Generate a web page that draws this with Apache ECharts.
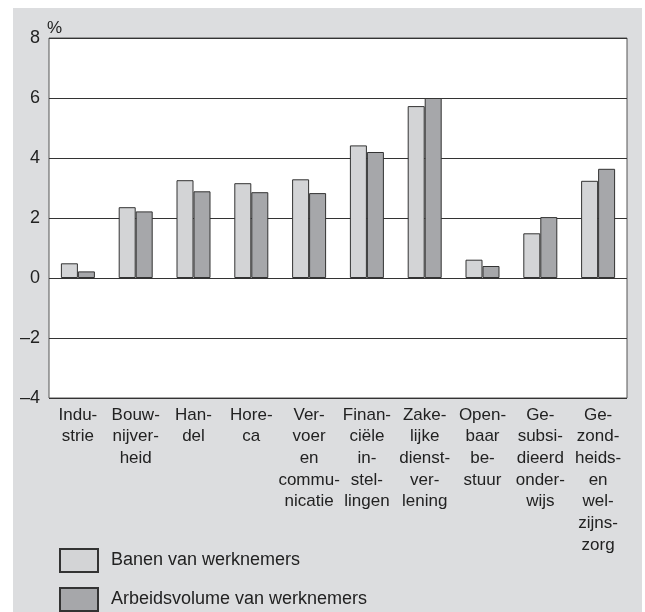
<!DOCTYPE html>
<html>
<head>
<meta charset="utf-8">
<script src="https://cdn.jsdelivr.net/npm/echarts@6/dist/echarts.min.js"></script>
<style>
  html, body { margin: 0; padding: 0; background: #fff; }
  #chart { width: 645px; height: 612px; }
</style>
</head>
<body>
<div id="chart"></div>
<script>
const categories = [
  'Indu-\nstrie',
  'Bouw-\nnijver-\nheid',
  'Han-\ndel',
  'Hore-\nca',
  'Ver-\nvoer\nen\ncommu-\nnicatie',
  'Finan-\nciële\nin-\nstel-\nlingen',
  'Zake-\nlijke\ndienst-\nver-\nlening',
  'Open-\nbaar\nbe-\nstuur',
  'Ge-\nsubsi-\ndieerd\nonder-\nwijs',
  'Ge-\nzond-\nheids-\nen\nwel-\nzijns-\nzorg'
]
const banen = [0.49, 2.36, 3.26, 3.16, 3.29, 4.42, 5.73, 0.61, 1.49, 3.24]
const arbeidsvolume = [0.22, 2.22, 2.89, 2.86, 2.83, 4.2, 6.0, 0.4, 2.03, 3.64]
const seriesNames = ['Banen van werknemers', 'Arbeidsvolume van werknemers']

const chart = echarts.init(document.getElementById('chart'), null, { renderer: 'canvas' })
const font = 'Liberation Sans, Arial, sans-serif'

chart.setOption({
  animation: false,
  textStyle: { fontFamily: font },
  graphic: [{
    type: 'rect',
    z: -10,
    shape: { x: 13, y: 8, width: 629, height: 604 },
    style: { fill: '#dcdddf' }
  }],
  grid: {
    left: 49, top: 38, right: 18, height: 360,
    show: true,
    backgroundColor: '#fff',
    borderColor: '#555',
    borderWidth: 1
  },
  legend: {
    orient: 'vertical',
    left: 59,
    top: 548,
    width: 400,
    height: 64,
    padding: 0,
    itemWidth: 38,
    itemHeight: 23,
    itemGap: 14,
    icon: 'rect',
    textStyle: { fontSize: 18, color: '#222', fontFamily: font, padding: [8, 0, 0, 8] },
    data: seriesNames
  },
  xAxis: {
    type: 'category',
    data: categories,
    axisLine: { show: false, onZero: false },
    axisTick: { show: false },
    axisLabel: {
      interval: 0,
      margin: 6,
      fontSize: 17,
      lineHeight: 21.7,
      color: '#222',
      fontFamily: font,
      verticalAlign: 'top'
    }
  },
  yAxis: {
    type: 'value',
    min: -4,
    max: 8,
    interval: 2,
    name: '%',
    nameLocation: 'end',
    nameGap: 1,
    nameTextStyle: { fontSize: 17, color: '#222', align: 'left', padding: [0, 0, 0, -2], fontFamily: font },
    axisLine: { show: false },
    axisTick: { show: false },
    axisLabel: {
      margin: 9,
      fontSize: 18,
      color: '#222',
      fontFamily: font,
      formatter: v => String(v).replace('-', '–')
    },
    splitLine: { lineStyle: { color: '#333', width: 1 } }
  },
  series: [
    {
      name: seriesNames[0],
      type: 'bar',
      data: banen,
      barWidth: 17,
      barGap: '0%',
      itemStyle: { color: '#d3d4d6', borderColor: '#333', borderWidth: 1 }
    },
    {
      name: seriesNames[1],
      type: 'bar',
      data: arbeidsvolume,
      barWidth: 17,
      itemStyle: { color: '#a6a7aa', borderColor: '#333', borderWidth: 1 }
    }
  ]
})
</script>
</body>
</html>
